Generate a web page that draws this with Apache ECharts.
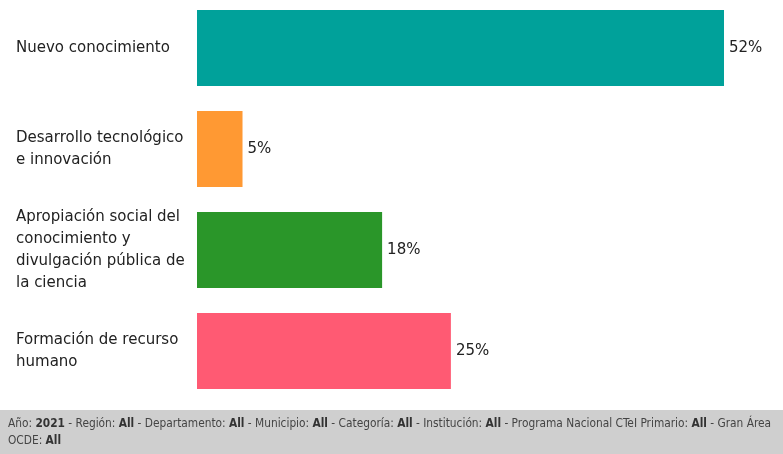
<!DOCTYPE html>
<html>
<head>
<meta charset="utf-8">
<script src="https://cdn.jsdelivr.net/npm/echarts@6/dist/echarts.min.js"></script>
<style>
  html, body { margin: 0; padding: 0; background: #fff; }
  #chart { width: 783px; height: 454px; }
</style>
</head>
<body>
<div id="chart"></div>
<script>
// categories (top to bottom) and their shares in %
const categories = [
  'Nuevo conocimiento',
  'Desarrollo tecnológico\ne innovación',
  'Apropiación social del\nconocimiento y\ndivulgación pública de\nla ciencia',
  'Formación de recurso\nhumano'
]
const shares = [52.1, 4.5, 18.3, 25.1]
const barColors = ['#00A19A', '#FF9933', '#2A9629', '#FF5A73']

// filter footer pieces: [label, value]
const filtersLine1 = [
  ['Año', '2021'], ['Región', 'All'], ['Departamento', 'All'], ['Municipio', 'All'],
  ['Categoría', 'All'], ['Institución', 'All'], ['Programa Nacional CTeI Primario', 'All']
]
const filtersLine2 = [['OCDE', 'All']]

const chart = echarts.init(document.getElementById('chart'), null, { renderer: 'canvas' })

function footerText() {
  const part = f => f[0] + ': {b|' + f[1] + '}'
  return filtersLine1.map(part).join(' - ') + ' - Gran Área\n' + filtersLine2.map(part).join(' - ')
}

const option = {
  animation: false,
  textStyle: { fontFamily: 'DejaVu Sans' },
  grid: { left: 197, right: 59, top: -2.5, height: 404, outerBoundsMode: 'none' },
  xAxis: {
    type: 'value',
    min: 0,
    max: 'dataMax',
    show: false
  },
  yAxis: {
    type: 'category',
    inverse: true,
    data: categories,
    axisLine: { show: false },
    axisTick: { show: false },
    axisLabel: {
      align: 'left',
      margin: 181,
      color: '#222',
      fontSize: 15,
      lineHeight: 22,
      fontFamily: 'DejaVu Sans'
    }
  },
  series: [
    {
      type: 'bar',
      barWidth: 76,
      data: shares.map((v, i) => ({ value: v, itemStyle: { color: barColors[i] } })),
      label: {
        show: true,
        position: 'right',
        distance: 5,
        color: '#222',
        fontSize: 15,
        formatter: p => Math.round(p.value) + '%'
      }
    }
  ],
  graphic: [
    {
      type: 'rect',
      left: 0,
      top: 410,
      shape: { width: 783, height: 44 },
      style: { fill: '#cfcfcf' },
      silent: true
    },
    {
      type: 'text',
      left: 8,
      top: 415,
      style: {
        text: footerText(),
        fill: '#444',
        fontSize: 11.8,
        lineHeight: 17,
        fontFamily: 'DejaVu Sans Condensed',
        rich: {
          b: { fontWeight: 'bold', fill: '#333', fontSize: 11.8, lineHeight: 17, fontFamily: 'DejaVu Sans Condensed' }
        }
      },
      silent: true
    }
  ]
}

chart.setOption(option)
</script>
</body>
</html>
